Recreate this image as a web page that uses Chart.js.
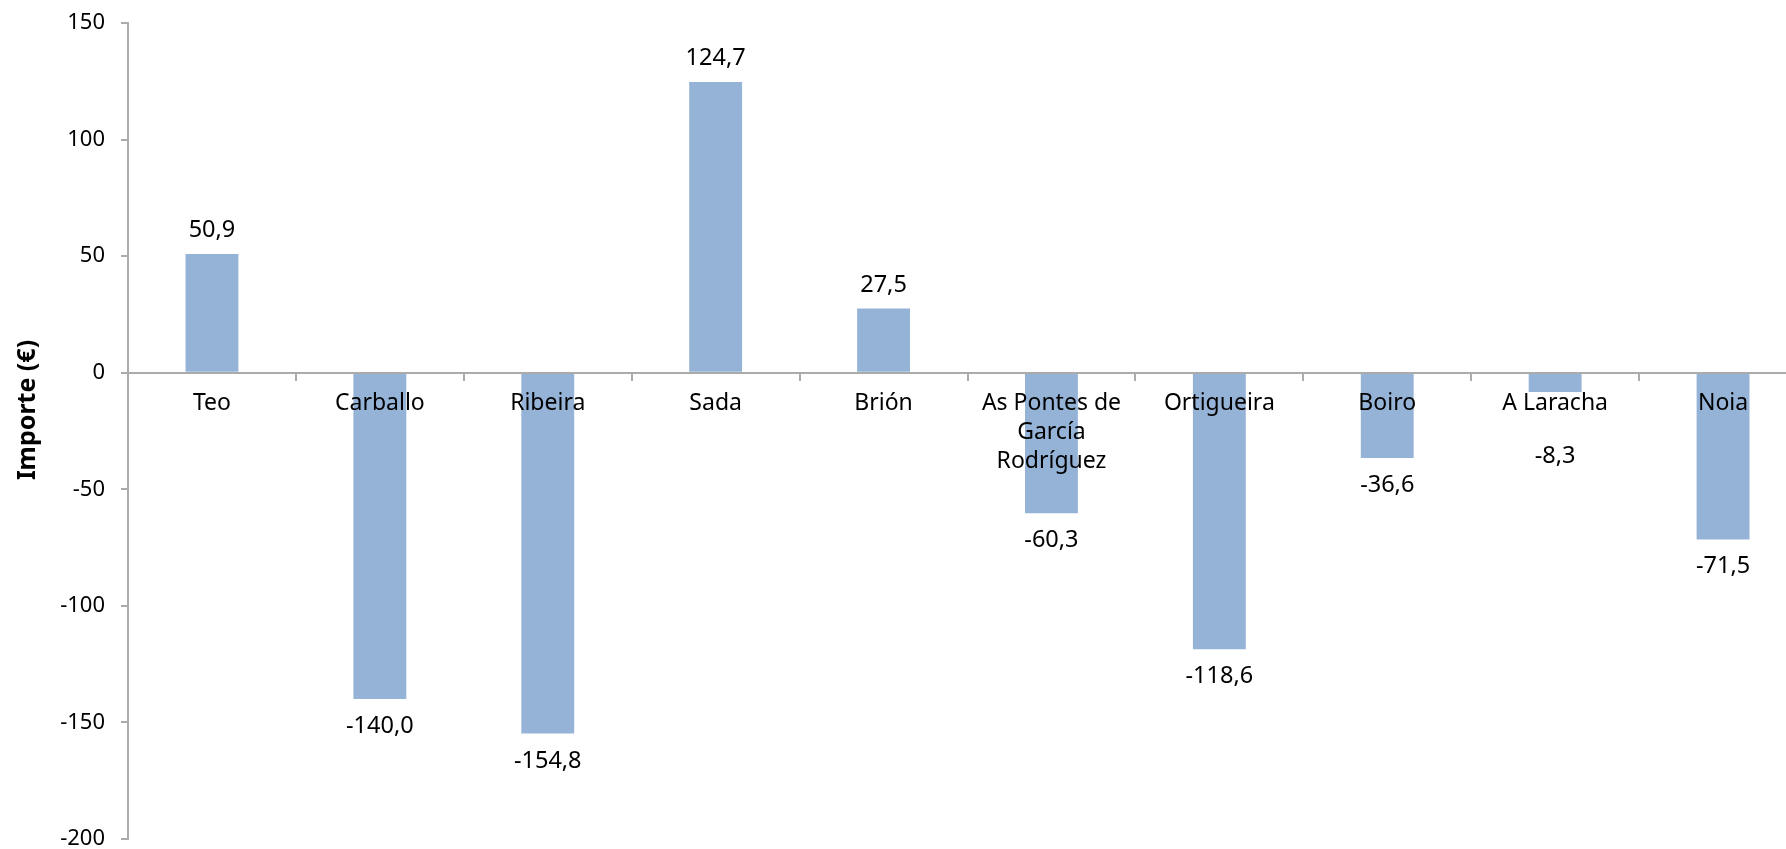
<!DOCTYPE html>
<html>
<head>
<meta charset="utf-8">
<script src="https://cdn.jsdelivr.net/npm/chart.js@4/dist/chart.umd.min.js"></script>
<style>
  html, body { margin: 0; padding: 0; overflow: hidden; background: #fff; width: 1786px; height: 849px; }
  #wrap { width: 1810px; height: 849px; }
</style>
</head>
<body>
<div id="wrap"><canvas id="c" width="1810" height="849"></canvas></div>
<script>
const categories = ['Teo', 'Carballo', 'Ribeira', 'Sada', 'Brión', ['As Pontes de', 'García', 'Rodríguez'], 'Ortigueira', 'Boiro', 'A Laracha', 'Noia'];
const values = [50.9, -140.0, -154.8, 124.7, 27.5, -60.3, -118.6, -36.6, -8.3, -71.5];
const yMin = -200;
const yMax = 150;
const yStep = 50;
const yTitle = 'Importe (€)';

const FONT = "'Noto Sans', 'Open Sans', sans-serif";
const AXIS_COLOR = '#ABABAB';
const BAR_COLOR = '#95B3D7';

const fmt = v => v.toFixed(1).replace('.', ',');

const valueLabels = {
  id: 'valueLabels',
  afterDatasetsDraw(chart) {
    const ctx = chart.ctx;
    const meta = chart.getDatasetMeta(0);
    const zeroY = chart.scales.y.getPixelForValue(0);
    ctx.save();
    ctx.font = '23.5px ' + FONT;
    ctx.fillStyle = '#000';
    ctx.textAlign = 'center';
    ctx.textBaseline = 'alphabetic';
    meta.data.forEach((el, i) => {
      const v = values[i];
      let y;
      if (v >= 0) {
        y = el.y - 17;
      } else {
        y = Math.max(el.y + 34, zeroY + 90);
      }
      ctx.fillText(fmt(v), el.x, y);
    });
    ctx.restore();
  }
};

const yTitlePlugin = {
  id: 'yTitlePlugin',
  afterDraw(chart) {
    const ctx = chart.ctx;
    ctx.save();
    ctx.translate(28, 410);
    ctx.rotate(-Math.PI / 2);
    ctx.font = 'bold 25px ' + FONT;
    ctx.fillStyle = '#000';
    ctx.textAlign = 'center';
    ctx.textBaseline = 'middle';
    ctx.fillText(yTitle, 0, 0);
    ctx.restore();
  }
};

new Chart(document.getElementById('c'), {
  type: 'bar',
  data: {
    labels: categories,
    datasets: [{
      data: values,
      backgroundColor: BAR_COLOR,
      borderWidth: 0,
      categoryPercentage: 0.315,
      barPercentage: 1.0
    }]
  },
  options: {
    responsive: false,
    animation: false,
    layout: { padding: { top: 23, bottom: 10, left: 0, right: 3 } },
    plugins: {
      legend: { display: false },
      tooltip: { enabled: false }
    },
    scales: {
      x: {
        position: { y: 0 },
        offset: true,
        grid: {
          display: true,
          offset: true,
          drawOnChartArea: false,
          drawTicks: true,
          tickLength: 7,
          color: AXIS_COLOR,
          lineWidth: 2,
          z: 1
        },
        border: { display: true, color: AXIS_COLOR, width: 2, z: 1 },
        ticks: {
          z: 2,
          color: '#000',
          font: { family: FONT, size: 23, lineHeight: 1.27 },
          padding: 9,
          maxRotation: 0,
          minRotation: 0,
          autoSkip: false
        }
      },
      y: {
        min: yMin,
        max: yMax,
        afterFit(scale) {
          scale.width = 128;
          scale.paddingTop = 0;
          scale.paddingBottom = 0;
        },
        grid: {
          display: true,
          drawOnChartArea: false,
          drawTicks: true,
          tickLength: 7,
          color: AXIS_COLOR,
          lineWidth: 2
        },
        border: { display: true, color: AXIS_COLOR, width: 2 },
        ticks: {
          stepSize: yStep,
          color: '#000',
          padding: 16,
          font: { family: FONT, size: 22, lineHeight: 0.8 },
          callback: v => String(v)
        }
      }
    }
  },
  plugins: [valueLabels, yTitlePlugin]
});
</script>
</body>
</html>
